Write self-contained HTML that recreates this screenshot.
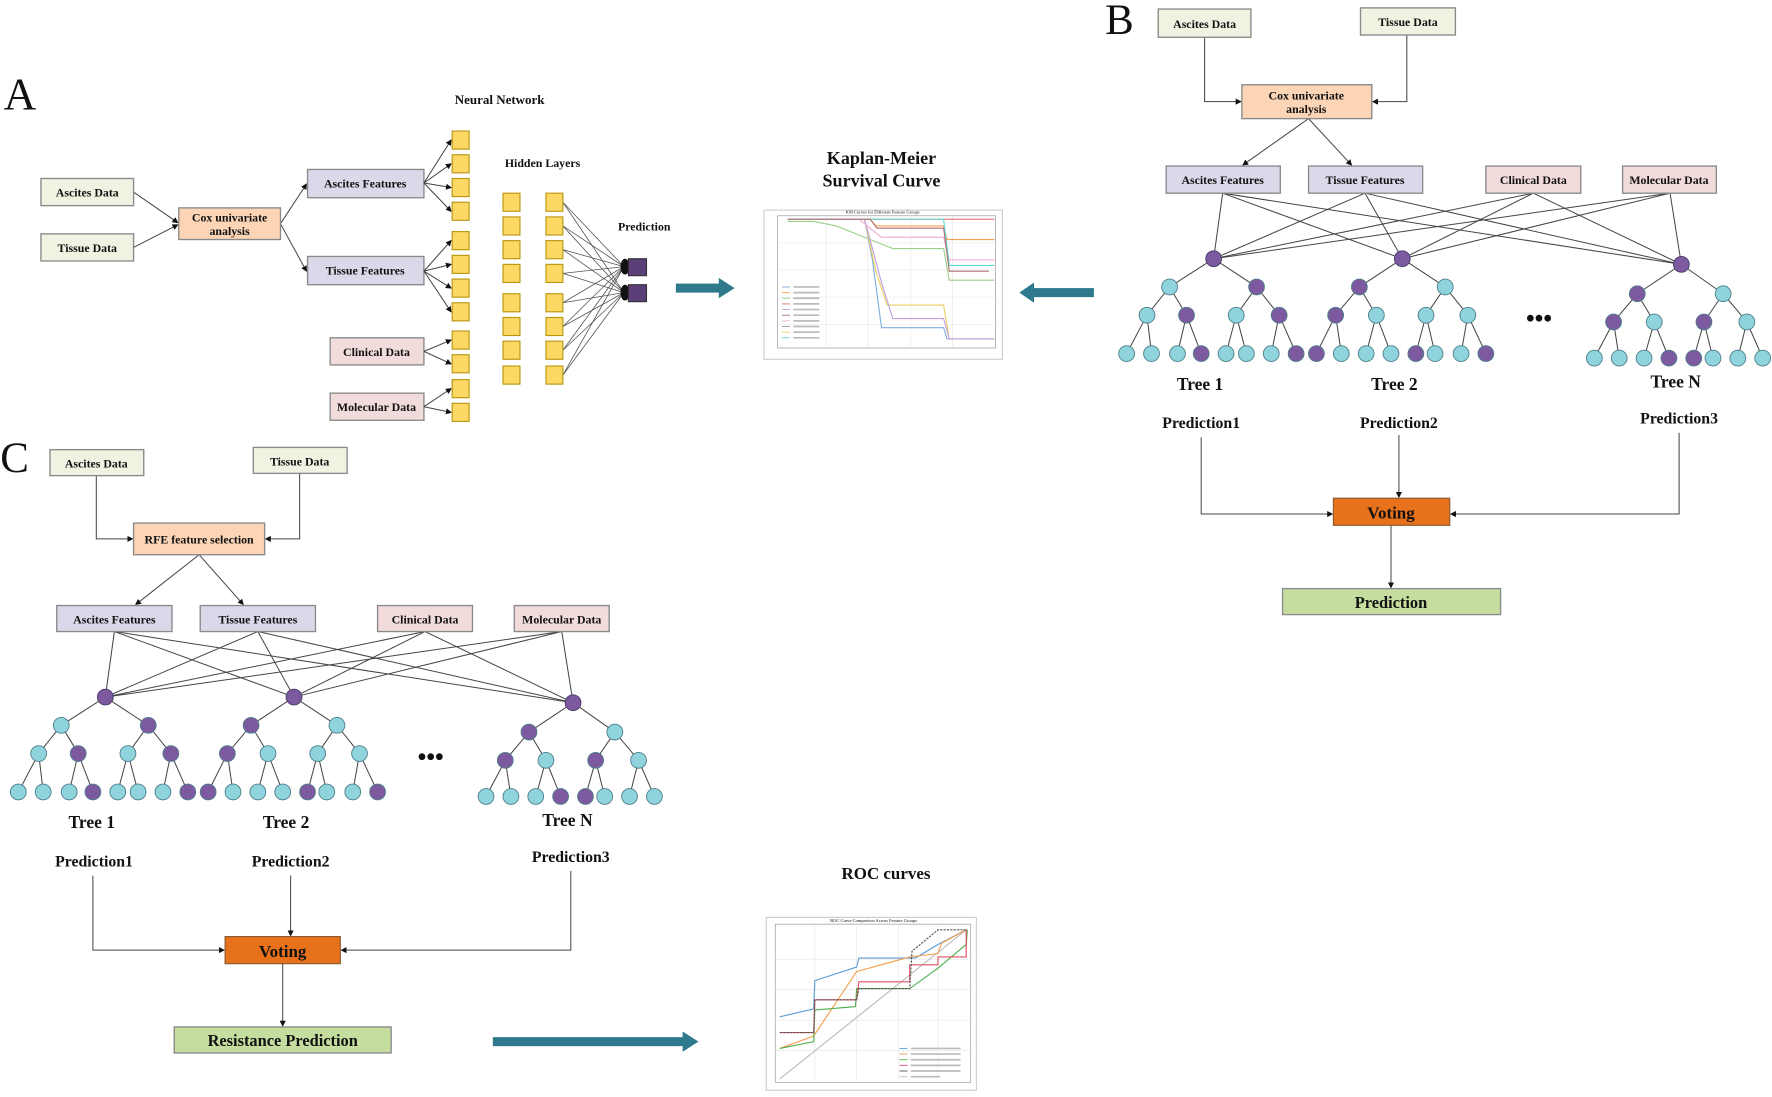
<!DOCTYPE html>
<html><head><meta charset="utf-8"><style>
html,body{margin:0;padding:0;background:#fff;}
svg{display:block;}
text{font-family:"Liberation Serif",serif;font-weight:bold;fill:#111;}
.bx{stroke:#8a8a8a;stroke-width:1.2;}
.g{fill:#eef3e2;} .o{fill:#fbd5b5;} .p{fill:#dcd8ea;} .r{fill:#f2dcdb;}
.t{font-size:10.5px;text-anchor:middle;}
.ln{stroke:#444;stroke-width:0.9;fill:none;}
.grid{stroke:#e4e4e4;stroke-width:0.5;}
</style></head><body>
<svg id="s" width="1772" height="1097" viewBox="0 0 1568 971" xmlns="http://www.w3.org/2000/svg">
<defs><marker id="ah" markerWidth="6" markerHeight="6" refX="5" refY="3" orient="auto"><path d="M0,0 L6,3 L0,6 z" fill="#111"/></marker></defs>
<rect width="1568" height="971" fill="#fff"/>
<!-- Panel A -->
<text x="3" y="97" style="font-size:40px;font-weight:normal">A</text>
<text x="442" y="92" class="t" style="font-size:11.5px">Neural Network</text>
<text x="480" y="148" class="t" style="font-size:10.5px">Hidden Layers</text>
<text x="570" y="204" class="t" style="font-size:10.5px">Prediction</text>
<g class="ln" marker-end="url(#ah)">
<line x1="118" y1="170" x2="157" y2="197"/><line x1="118" y1="219" x2="157" y2="199"/>
<line x1="248" y1="198" x2="271" y2="163"/><line x1="248" y1="198" x2="271" y2="240"/>
</g>
<rect class="bx g" x="36" y="158" width="82" height="24"/><text class="t" x="77" y="174">Ascites Data</text>
<rect class="bx g" x="36" y="207" width="82" height="24"/><text class="t" x="77" y="223">Tissue Data</text>
<rect class="bx o" x="158" y="184" width="90" height="28"/><text class="t" x="203" y="196">Cox univariate</text><text class="t" x="203" y="208">analysis</text>
<rect class="bx p" x="272" y="150" width="103" height="25"/><text class="t" x="323" y="166">Ascites Features</text>
<rect class="bx p" x="272" y="227" width="103" height="25"/><text class="t" x="323" y="243">Tissue Features</text>
<rect class="bx r" x="292" y="299" width="83" height="24"/><text class="t" x="333" y="315">Clinical Data</text>
<rect class="bx r" x="292" y="348" width="83" height="24"/><text class="t" x="333" y="364">Molecular Data</text>
<g id="nn"></g>
<rect x="598" y="251" width="40" height="8" fill="#2e7a8c"/><path d="M636,246 L650,255 L636,264 z" fill="#2e7a8c"/>
<!-- KM -->
<text x="780" y="145" class="t" style="font-size:16px">Kaplan-Meier</text>
<text x="780" y="165" class="t" style="font-size:16px">Survival Curve</text>
<rect x="676" y="186" width="211" height="132" fill="#fff" stroke="#ccc"/>
<rect x="688" y="191" width="193" height="117" fill="none" stroke="#999" stroke-width="0.6"/>
<g class="grid">
<line x1="688" y1="215" x2="881" y2="215"/><line x1="688" y1="239" x2="881" y2="239"/><line x1="688" y1="263" x2="881" y2="263"/><line x1="688" y1="287" x2="881" y2="287"/>
<line x1="731" y1="191" x2="731" y2="308"/><line x1="768" y1="191" x2="768" y2="308"/><line x1="806" y1="191" x2="806" y2="308"/><line x1="843" y1="191" x2="843" y2="308"/>
</g>
<text x="781" y="189" class="t" style="font-size:4px;font-weight:normal">KM Curves for Different Feature Groups</text>
<g fill="none" stroke-width="1">
<path d="M697,194 H880" stroke="#e07070"/>
<path d="M697,194 H770 L775,200 H835 L838,212 H880" stroke="#f5a050"/>
<path d="M697,196 H720 L740,200 L765,210 L790,220 H835 L840,248 H880" stroke="#9ad08a"/>
<path d="M697,194 H765 L772,230 L780,290 H835 L838,300 H880" stroke="#7fb0e0"/>
<path d="M697,194 H765 L775,240 L785,270 H835 L840,300 H880" stroke="#e8d060"/>
<path d="M697,194 H765 L780,250 L790,282 H835 L840,300 H880" stroke="#c0a0e0"/>
<path d="M697,194 H760 L780,210 H835 L840,230 H880" stroke="#f0b0d8"/>
<path d="M697,194 H835 L840,235 H880" stroke="#60d8d8"/>
<path d="M697,194 H770 L776,202 H835 L840,240 H875" stroke="#b07070"/>
</g>
<g stroke-width="0.8">
<line x1="692" y1="254" x2="699" y2="254" stroke="#7fb0e0"/><line x1="692" y1="259" x2="699" y2="259" stroke="#f5a050"/>
<line x1="692" y1="264" x2="699" y2="264" stroke="#9ad08a"/><line x1="692" y1="269" x2="699" y2="269" stroke="#e07070"/>
<line x1="692" y1="274" x2="699" y2="274" stroke="#c0a0e0"/><line x1="692" y1="279" x2="699" y2="279" stroke="#b07070"/>
<line x1="692" y1="284" x2="699" y2="284" stroke="#f0b0d8"/><line x1="692" y1="289" x2="699" y2="289" stroke="#999"/>
<line x1="692" y1="294" x2="699" y2="294" stroke="#e8d060"/><line x1="692" y1="299" x2="699" y2="299" stroke="#60d8d8"/>
</g>
<g stroke="#bbb" stroke-width="1.5">
<line x1="702" y1="254" x2="725" y2="254"/><line x1="702" y1="259" x2="725" y2="259"/><line x1="702" y1="264" x2="725" y2="264"/><line x1="702" y1="269" x2="725" y2="269"/><line x1="702" y1="274" x2="725" y2="274"/>
<line x1="702" y1="279" x2="725" y2="279"/><line x1="702" y1="284" x2="725" y2="284"/><line x1="702" y1="289" x2="725" y2="289"/><line x1="702" y1="294" x2="725" y2="294"/><line x1="702" y1="299" x2="725" y2="299"/>
</g>
<rect x="913" y="255" width="55" height="8" fill="#2e7a8c"/><path d="M915,250 L902,259 L915,268 z" fill="#2e7a8c"/>
<!-- Panel B -->
<text x="978" y="30" style="font-size:38px;font-weight:normal">B</text>
<g class="ln" marker-end="url(#ah)">
<polyline points="1066,33 1066,90 1098,90"/><polyline points="1245,31 1245,90 1215,90"/>
<line x1="1158" y1="105" x2="1100" y2="146"/><line x1="1158" y1="105" x2="1196" y2="146"/>
<polyline points="1063,387 1063,455 1179,455"/><line x1="1238" y1="385" x2="1238" y2="440"/>
<polyline points="1486,383 1486,455 1284,455"/><line x1="1231" y1="465" x2="1231" y2="520"/>
</g>
<rect class="bx g" x="1025" y="8" width="82" height="25"/><text class="t" x="1066" y="25">Ascites Data</text>
<rect class="bx g" x="1204" y="7" width="84" height="24"/><text class="t" x="1246" y="23">Tissue Data</text>
<rect class="bx o" x="1099" y="75" width="115" height="30"/><text class="t" x="1156" y="88">Cox univariate</text><text class="t" x="1156" y="100">analysis</text>
<g id="tb"></g>
<rect class="bx p" x="1032" y="147" width="101" height="24"/><text class="t" x="1082" y="163">Ascites Features</text>
<rect class="bx p" x="1158" y="147" width="101" height="24"/><text class="t" x="1208" y="163">Tissue Features</text>
<rect class="bx r" x="1315" y="147" width="84" height="24"/><text class="t" x="1357" y="163">Clinical Data</text>
<rect class="bx r" x="1436" y="147" width="83" height="24"/><text class="t" x="1477" y="163">Molecular Data</text>
<text x="1362" y="289" class="t" style="font-size:22px">•••</text>
<text x="1062" y="345" class="t" style="font-size:15.5px">Tree 1</text>
<text x="1234" y="345" class="t" style="font-size:15.5px">Tree 2</text>
<text x="1483" y="343" class="t" style="font-size:15.5px">Tree N</text>
<text x="1063" y="379" class="t" style="font-size:14px">Prediction1</text>
<text x="1238" y="379" class="t" style="font-size:14px">Prediction2</text>
<text x="1486" y="375" class="t" style="font-size:14px">Prediction3</text>
<rect x="1180" y="441" width="103" height="24" fill="#e8711c" stroke="#8a5a30"/><text class="t" x="1231" y="459" style="font-size:15px">Voting</text>
<rect class="bx" x="1135" y="521" width="193" height="23" fill="#c5dea0"/><text class="t" x="1231" y="538" style="font-size:14.5px">Prediction</text>
<!-- Panel C -->
<text x="0" y="418" style="font-size:38px;font-weight:normal">C</text>
<g class="ln" marker-end="url(#ah)">
<polyline points="85,421 85,477 117,477"/><polyline points="265,419 265,477 235,477"/>
<line x1="176" y1="491" x2="120" y2="535"/><line x1="176" y1="491" x2="215" y2="535"/>
<polyline points="82,775 82,841 198,841"/><line x1="257" y1="775" x2="257" y2="828"/>
<polyline points="505,771 505,841 302,841"/><line x1="250" y1="853" x2="250" y2="908"/>
</g>
<rect class="bx g" x="44" y="398" width="83" height="23"/><text class="t" x="85" y="414">Ascites Data</text>
<rect class="bx g" x="224" y="396" width="83" height="23"/><text class="t" x="265" y="412">Tissue Data</text>
<rect class="bx o" x="118" y="463" width="116" height="28"/><text class="t" x="176" y="481">RFE feature selection</text>
<g id="tc"></g>
<rect class="bx p" x="50" y="536" width="102" height="23"/><text class="t" x="101" y="552">Ascites Features</text>
<rect class="bx p" x="177" y="536" width="102" height="23"/><text class="t" x="228" y="552">Tissue Features</text>
<rect class="bx r" x="334" y="536" width="84" height="23"/><text class="t" x="376" y="552">Clinical Data</text>
<rect class="bx r" x="455" y="536" width="84" height="23"/><text class="t" x="497" y="552">Molecular Data</text>
<text x="381" y="677" class="t" style="font-size:22px">•••</text>
<text x="81" y="733" class="t" style="font-size:15.5px">Tree 1</text>
<text x="253" y="733" class="t" style="font-size:15.5px">Tree 2</text>
<text x="502" y="731" class="t" style="font-size:15.5px">Tree N</text>
<text x="83" y="767" class="t" style="font-size:14px">Prediction1</text>
<text x="257" y="767" class="t" style="font-size:14px">Prediction2</text>
<text x="505" y="763" class="t" style="font-size:14px">Prediction3</text>
<rect x="199" y="829" width="102" height="24" fill="#e8711c" stroke="#8a5a30"/><text class="t" x="250" y="847" style="font-size:15px">Voting</text>
<rect class="bx" x="154" y="909" width="192" height="23" fill="#c5dea0"/><text class="t" x="250" y="926" style="font-size:14.5px">Resistance  Prediction</text>
<rect x="436" y="918" width="170" height="8" fill="#2e7a8c"/><path d="M604,913 L618,922 L604,931 z" fill="#2e7a8c"/>
<!-- ROC -->
<text x="784" y="778" class="t" style="font-size:15px">ROC curves</text>
<rect x="678" y="812" width="186" height="153" fill="#fff" stroke="#ccc"/>
<rect x="686" y="818" width="173" height="140" fill="none" stroke="#999" stroke-width="0.6"/>
<g class="grid">
<line x1="686" y1="849" x2="859" y2="849"/><line x1="686" y1="876" x2="859" y2="876"/><line x1="686" y1="903" x2="859" y2="903"/><line x1="686" y1="930" x2="859" y2="930"/>
<line x1="721" y1="818" x2="721" y2="958"/><line x1="758" y1="818" x2="758" y2="958"/><line x1="795" y1="818" x2="795" y2="958"/><line x1="830" y1="818" x2="830" y2="958"/>
</g>
<text x="773" y="816" class="t" style="font-size:4px;font-weight:normal">ROC Curve Comparison Across Feature Groups</text>
<g fill="none" stroke-width="1">
<path d="M690,955 L855,823" stroke="#bbb"/>
<path d="M690,900 L720,893 L721,868 L758,856 L760,848 H810 L830,836 L855,823" stroke="#5b9bd5"/>
<path d="M690,928 L720,917 L758,860 L805,847 L830,844 L833,835 L855,823" stroke="#f5a050"/>
<path d="M690,928 L720,922 L721,894 L757,891 L758,875 L805,875 L830,857 L855,836 L856,823" stroke="#50b050"/>
<path d="M690,914 H720 L721,885 H758 L760,869 H805 V854 H830 V847 H855 V823" stroke="#e05060"/>
<path d="M690,914 H720 L721,885 H758 L760,875 H805 L807,842 L830,823 H855" stroke="#555" stroke-dasharray="2,1"/>
</g>
<g stroke-width="0.8">
<line x1="796" y1="928" x2="803" y2="928" stroke="#5b9bd5"/><line x1="796" y1="933" x2="803" y2="933" stroke="#f5a050"/>
<line x1="796" y1="938" x2="803" y2="938" stroke="#50b050"/><line x1="796" y1="943" x2="803" y2="943" stroke="#e05060"/>
<line x1="796" y1="948" x2="803" y2="948" stroke="#555"/><line x1="796" y1="953" x2="803" y2="953" stroke="#bbb"/>
</g>
<g stroke="#bbb" stroke-width="1.5">
<line x1="806" y1="928" x2="850" y2="928"/><line x1="806" y1="933" x2="850" y2="933"/><line x1="806" y1="938" x2="850" y2="938"/>
<line x1="806" y1="943" x2="850" y2="943"/><line x1="806" y1="948" x2="850" y2="948"/><line x1="806" y1="953" x2="832" y2="953"/>
</g>
</svg>
<script>
var NS="http://www.w3.org/2000/svg";
function el(p,t,a){var e=document.createElementNS(NS,t);for(var k in a)e.setAttribute(k,a[k]);p.appendChild(e);return e;}
var nn=document.getElementById("nn");
var ys=[116,137,158,179,205,226,247,268,293,314,336,357];
var src=[[375,162],[375,162],[375,162],[375,162],[375,240],[375,240],[375,240],[375,240],[375,311],[375,311],[375,360],[375,360]];
ys.forEach(function(y,i){el(nn,"line",{x1:src[i][0],y1:src[i][1],x2:399,y2:y+8,class:"ln","marker-end":"url(#ah)"});});
var hy=[171,192,213,234,260,281,302,324];
hy.forEach(function(y){[236,259].forEach(function(o){el(nn,"line",{x1:498,y1:y+8,x2:552,y2:o,stroke:"#555","stroke-width":0.7});});});
ys.forEach(function(y){el(nn,"rect",{x:400,y:y,width:15,height:16,fill:"#fdd865",stroke:"#b8960e"});});
hy.forEach(function(y){[445,483].forEach(function(x){el(nn,"rect",{x:x,y:y,width:15,height:16,fill:"#fdd865",stroke:"#b8960e"});});});
el(nn,"ellipse",{cx:553,cy:236,rx:4,ry:7,fill:"#111"});el(nn,"ellipse",{cx:553,cy:259,rx:4,ry:7,fill:"#111"});
el(nn,"rect",{x:556,y:229,width:16,height:15,fill:"#5a3f78",stroke:"#333"});
el(nn,"rect",{x:556,y:252,width:16,height:15,fill:"#5a3f78",stroke:"#333"});
var P="#7d5aa0",C="#8fd3dc";
var trees=[
 {r:[1074,229],l1:[[1035,254,C],[1112,254,P]],y2:279,l2:[[1015,C],[1050,P],[1094,C],[1132,P]],y3:313,l3:[[997,C],[1019,C],[1042,C],[1063,P],[1085,C],[1103,C],[1125,C],[1147,P]]},
 {r:[1241,229],l1:[[1203,254,P],[1279,254,C]],y2:279,l2:[[1182,P],[1218,C],[1262,C],[1299,C]],y3:313,l3:[[1165,P],[1187,C],[1209,C],[1231,C],[1253,P],[1270,C],[1293,C],[1315,P]]},
 {r:[1488,234],l1:[[1449,260,P],[1525,260,C]],y2:285,l2:[[1428,P],[1464,C],[1508,P],[1546,C]],y3:317,l3:[[1411,C],[1433,C],[1455,C],[1477,P],[1499,P],[1516,C],[1538,C],[1560,C]]}];
function draw(g,dx,dy,feats,fy){
 trees.forEach(function(t){feats.forEach(function(f){
   el(g,"line",{x1:f,y1:fy,x2:t.r[0]+dx,y2:t.r[1]+dy,class:"ln"});});});
 trees.forEach(function(t){
  var rx=t.r[0]+dx,ry=t.r[1]+dy;
  t.l1.forEach(function(a,i){el(g,"line",{x1:rx,y1:ry,x2:a[0]+dx,y2:a[1]+dy,class:"ln"});
    for(var j=0;j<2;j++){var b=t.l2[i*2+j];el(g,"line",{x1:a[0]+dx,y1:a[1]+dy,x2:b[0]+dx,y2:t.y2+dy,class:"ln"});
      for(var k=0;k<2;k++){var c=t.l3[(i*2+j)*2+k];el(g,"line",{x1:b[0]+dx,y1:t.y2+dy,x2:c[0]+dx,y2:t.y3+dy,class:"ln"});}}});
  el(g,"circle",{cx:rx,cy:ry,r:7,fill:P,stroke:"#4a3a66","stroke-width":0.8});
  t.l1.forEach(function(a){el(g,"circle",{cx:a[0]+dx,cy:a[1]+dy,r:7,fill:a[2],stroke:"#4d7f8a","stroke-width":0.8});});
  t.l2.forEach(function(a){el(g,"circle",{cx:a[0]+dx,cy:t.y2+dy,r:7,fill:a[1],stroke:"#4d7f8a","stroke-width":0.8});});
  t.l3.forEach(function(a){el(g,"circle",{cx:a[0]+dx,cy:t.y3+dy,r:7,fill:a[1],stroke:"#4d7f8a","stroke-width":0.8});});
 });
}
draw(document.getElementById("tb"),0,0,[1082,1208,1357,1478],171);
draw(document.getElementById("tc"),-981,388,[101,228,376,497],559);
</script>
</body></html>
